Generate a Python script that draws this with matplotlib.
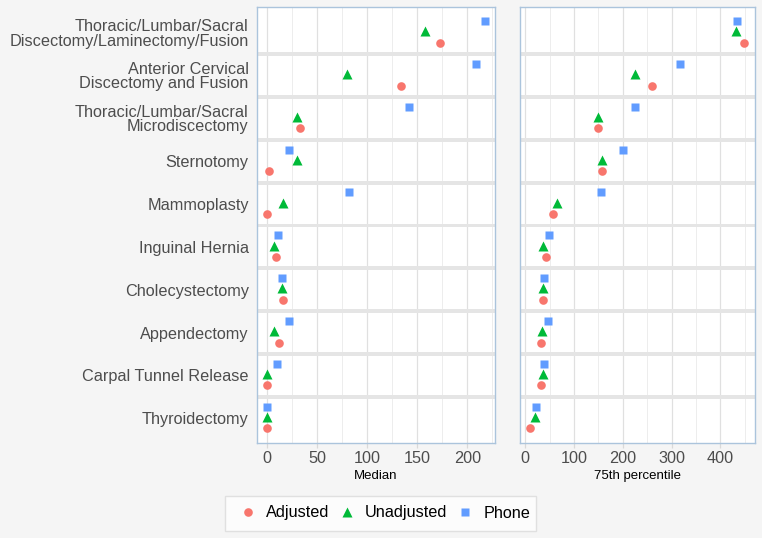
import matplotlib.pyplot as plt
import numpy as np
from matplotlib.patches import Rectangle
from matplotlib.ticker import MultipleLocator

plt.rcParams['font.family'] = ['Liberation Sans', 'DejaVu Sans']

procedures = ['Thoracic/Lumbar/Sacral\nDiscectomy/Laminectomy/Fusion',
              'Anterior Cervical\nDiscectomy and Fusion',
              'Thoracic/Lumbar/Sacral\nMicrodiscectomy',
              'Sternotomy', 'Mammoplasty', 'Inguinal Hernia', 'Cholecystectomy',
              'Appendectomy', 'Carpal Tunnel Release', 'Thyroidectomy']

# median values
median_adjusted = [173, 134, 33, 2, 0, 9, 16, 12, 0, 0]
median_unadjusted = [158, 80, 30, 30, 16, 7, 15, 7, 0, 0]
median_phone = [218, 209, 142, 22, 82, 11, 15, 22, 10, 0]

# 75th percentile values
p75_adjusted = [449, 260, 149, 157, 56, 42, 37, 33, 33, 10]
p75_unadjusted = [432, 224, 149, 157, 65, 37, 37, 35, 37, 20]
p75_phone = [434, 318, 224, 200, 155, 48, 38, 46, 38, 22]

colors = {'Adjusted': '#F8766D', 'Unadjusted': '#00BA38', 'Phone': '#619CFF'}
markers = {'Adjusted': ('o', 6.2), 'Unadjusted': ('^', 7.6), 'Phone': ('s', 6.2)}
offsets = {'Adjusted': 0.235, 'Unadjusted': -0.03, 'Phone': -0.27}

fig = plt.figure(figsize=(7.62, 5.38), dpi=100, facecolor='#f5f5f5')
ax1 = fig.add_axes([257 / 762, 1 - 443 / 538, 238 / 762, 436 / 538])
ax2 = fig.add_axes([520 / 762, 1 - 443 / 538, 235 / 762, 436 / 538])

y = np.arange(len(procedures))
panels = [
    (ax1, {'Adjusted': median_adjusted, 'Unadjusted': median_unadjusted, 'Phone': median_phone},
     'Median', (-10.3, 227.7), 50),
    (ax2, {'Adjusted': p75_adjusted, 'Unadjusted': p75_unadjusted, 'Phone': p75_phone},
     '75th percentile', (-10.9, 471), 100),
]

for ax, series, title, xlim, step in panels:
    ax.set_facecolor('white')
    ax.set_xlim(*xlim)
    ax.set_ylim(9.58, -0.6)
    ax.xaxis.set_major_locator(MultipleLocator(step))
    ax.xaxis.set_minor_locator(MultipleLocator(step / 2))
    ax.grid(True, which='major', axis='x', color='#e0e0e0', lw=0.9, zorder=0)
    ax.grid(True, which='minor', axis='x', color='#eaeaea', lw=0.6, zorder=0)
    ax.set_axisbelow(True)
    for i in range(len(procedures) - 1):
        ax.axhspan(i + 0.455, i + 0.545, color='#e5e5e5', lw=0, zorder=1)
    for name in ['Adjusted', 'Unadjusted', 'Phone']:
        m, ms = markers[name]
        ax.plot(series[name], y + offsets[name], ls='none', marker=m, ms=ms,
                color=colors[name], mec='none', zorder=3, label=name)
    for s in ax.spines.values():
        s.set_color('#abc4dc')
        s.set_linewidth(1.0)
    ax.tick_params(axis='x', which='major', length=3.5, color='#d9d9d9', width=0.9,
                   labelsize=11.7, labelcolor='#4d4d4d', pad=2)
    ax.tick_params(axis='x', which='minor', length=0)
    ax.set_xlabel(title, fontsize=9.5, color='black', labelpad=3)
    ax.set_yticks(y)
    if ax is ax1:
        ax.set_yticklabels(procedures)
        ax.tick_params(axis='y', length=0, pad=6, labelsize=11.7, labelcolor='#4d4d4d')
        for lab in ax.get_yticklabels():
            lab.set_linespacing(0.95)
    else:
        ax.set_yticklabels([])
        ax.tick_params(axis='y', length=0)

# legend box drawn separately so horizontal padding can be wider than vertical
fig.patches.append(Rectangle((225 / 762, 1 - 531 / 538), 311 / 762, 35 / 538,
                             transform=fig.transFigure, facecolor='#fcfcfc',
                             edgecolor='#e0e0e0', lw=1.0, zorder=0))
handles, labels = ax1.get_legend_handles_labels()
leg = fig.legend(handles, labels, loc='center', bbox_to_anchor=(386 / 762, 1 - 513 / 538),
                 ncol=3, fontsize=11.7, frameon=False, borderpad=0,
                 handletextpad=0.7, columnspacing=0.7, handlelength=0.8)

fig.savefig('out.png', dpi=100, facecolor=fig.get_facecolor())
